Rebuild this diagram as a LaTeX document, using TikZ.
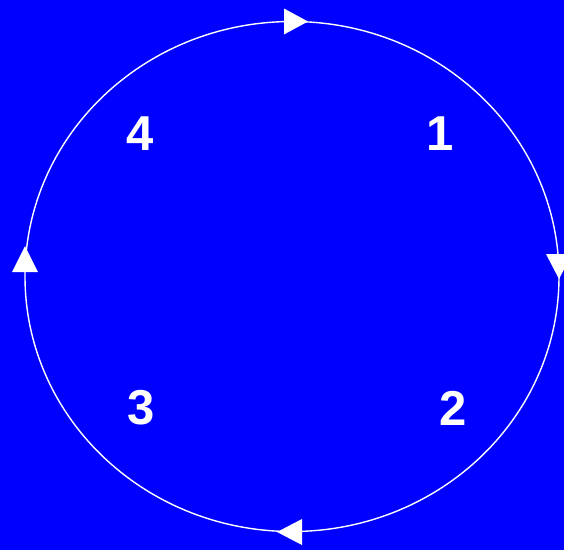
\documentclass[tikz,border=0pt]{standalone}
\usepackage{fontspec}
\setmainfont{Liberation Sans}
\begin{document}
\begin{tikzpicture}[x=1pt,y=-1pt,
  lbl/.style={text=white,font=\fontsize{49}{49}\selectfont\bfseries,inner sep=0pt},
  tri/.style={fill=white,draw=none}]
\fill[blue!100] (0,0) rectangle (564,550);
\useasboundingbox (0,0) rectangle (564,550);
\draw[white,line width=1.4pt] (292,276.5) ellipse [x radius=267,y radius=255];
% arrowheads
\fill[tri] (284,8.5) -- (308,21.5) -- (284,34.5) -- cycle;
\fill[tri] (546,254) -- (559,279) -- (572,254) -- cycle;
\fill[tri] (302,519) -- (277,532) -- (302,545) -- cycle;
\fill[tri] (12,272) -- (25,246) -- (38,272) -- cycle;
\node[lbl] (n1) at (440,134) {1};
\node[lbl] (n2) at (453,408) {2};
\node[lbl] (n3) at (141,408) {3};
\node[lbl] (n4) at (140,134) {4};
\end{tikzpicture}
\end{document}
